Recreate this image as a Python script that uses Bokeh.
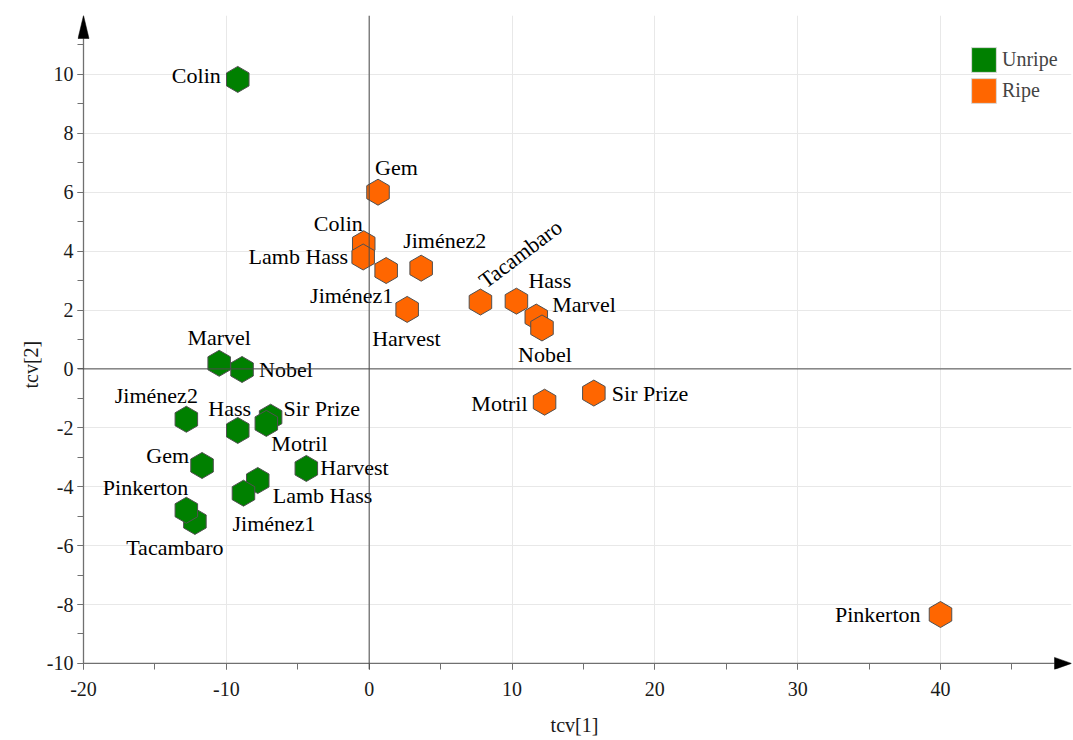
import math
from bokeh.plotting import figure
from bokeh.models import (Range1d, FixedTicker, Span, Legend, LegendItem, ColumnDataSource,
                          CustomJSTickFormatter, Title)
from bokeh.embed import file_html
from bokeh.resources import INLINE
from bokeh.core.properties import value

# ---------------- data ----------------
unripe_names = ["Colin", "Marvel", "Nobel", "Jiménez2", "Hass", "Sir Prize", "Motril",
                "Gem", "Harvest", "Lamb Hass", "Jiménez1", "Tacambaro", "Pinkerton"]
unripe_t1 = [-9.2, -10.5, -8.9, -12.8, -9.2, -6.9, -7.2, -11.7, -4.4, -7.8, -8.8, -12.2, -12.8]
unripe_t2 = [9.83, 0.19, -0.02, -1.71, -2.09, -1.64, -1.85, -3.28, -3.38, -3.79, -4.22, -5.18, -4.80]

ripe_names = ["Gem", "Colin", "Lamb Hass", "Jiménez1", "Jiménez2", "Harvest", "Tacambaro",
              "Hass", "Marvel", "Nobel", "Motril", "Sir Prize", "Pinkerton"]
ripe_t1 = [0.62, -0.38, -0.42, 1.19, 3.64, 2.66, 7.79, 10.31, 11.7, 12.1, 12.28, 15.73, 40.0]
ripe_t2 = [6.0, 4.25, 3.8, 3.34, 3.42, 2.02, 2.27, 2.30, 1.76, 1.39, -1.13, -0.82, -8.34]

x_ticks = [-20, -10, 0, 10, 20, 30, 40]
y_ticks = [-10, -8, -6, -4, -2, 0, 2, 4, 6, 8, 10]
x_axis_start, y_axis_start, y_axis_end = -20, -10, 12
series_labels = ["Unripe", "Ripe"]
axis_titles = ["tcv[1]", "tcv[2]"]

# ---------------- label styling (screen px offsets, alignment, angle deg) ----------------
unripe_lbl = {
    "Colin": ("right", -17, -4, 0), "Marvel": ("center", 0, -26, 0), "Nobel": ("left", 17, 0, 0),
    "Jiménez2": ("center", -30, -24, 0), "Hass": ("center", -8, -22, 0),
    "Sir Prize": ("left", 13, -9, 0), "Motril": ("left", 5, 20, 0), "Gem": ("right", -13, -10, 0),
    "Harvest": ("left", 14, -1, 0), "Lamb Hass": ("left", 15, 15, 0),
    "Jiménez1": ("left", -11, 30, 0), "Tacambaro": ("center", -20, 26, 0),
    "Pinkerton": ("right", 2, -23, 0),
}
ripe_lbl = {
    "Gem": ("left", -3, -25, 0), "Colin": ("right", -1, -20, 0), "Lamb Hass": ("right", -15, 0, 0),
    "Jiménez1": ("right", 7, 25, 0), "Jiménez2": ("left", -18, -28, 0),
    "Harvest": ("left", -35, 29, 0), "Tacambaro": ("left", 1, -19, 37),
    "Hass": ("left", 12, -21, 0), "Marvel": ("left", 16, -13, 0), "Nobel": ("center", 3, 27, 0),
    "Motril": ("right", -17, 1, 0), "Sir Prize": ("left", 18, 0, 0), "Pinkerton": ("right", -20, 0, 0),
}

FONT = "Liberation Serif"
AX = "#707070"
W, H = 1073, 740
LEFT, RIGHT, TOP, BOTTOM = 77, 2, 15, 71
PAD = 6                      # gap between frame edge and drawn axis lines (= tick length)
PPX = 857 / 60.0             # pixels per x unit
PPY = 589 / 20.0             # pixels per y unit
X0 = x_axis_start - PAD / PPX
X1 = X0 + (W - LEFT - RIGHT) / PPX
Y1 = y_axis_end
Y0 = Y1 - (H - TOP - BOTTOM) / PPY

p = figure(width=W, height=H, x_range=Range1d(X0, X1), y_range=Range1d(Y0, Y1),
           output_backend="svg", toolbar_location=None, min_border=0,
           min_border_left=LEFT, min_border_right=RIGHT, min_border_top=TOP,
           min_border_bottom=BOTTOM)
p.outline_line_color = None
p.background_fill_color = "white"

fmt = CustomJSTickFormatter(code="return tick.toString()")
p.xaxis.ticker = FixedTicker(ticks=x_ticks, minor_ticks=list(range(-20, 50, 5)))
p.yaxis.ticker = FixedTicker(ticks=y_ticks, minor_ticks=list(range(-10, 12)))
for ax in (p.xaxis[0], p.yaxis[0]):
    ax.formatter = fmt
    ax.axis_line_color = None
    ax.major_tick_line_color = AX
    ax.minor_tick_line_color = AX
    ax.major_tick_out = 0
    ax.major_tick_in = PAD
    ax.minor_tick_out = 0
    ax.minor_tick_in = PAD
    ax.major_label_text_font = FONT
    ax.major_label_text_font_size = "20px"
    ax.major_label_text_color = "#1a1a1a"
    ax.axis_label_text_font = FONT
    ax.axis_label_text_font_style = "normal"
    ax.axis_label_text_font_size = "20px"
    ax.axis_label_text_color = "#1a1a1a"
p.xaxis.axis_label = axis_titles[0]
p.xaxis.major_label_standoff = 12
p.xaxis.axis_label_standoff = 15
p.yaxis.major_label_standoff = 4

p.xgrid.ticker = FixedTicker(ticks=x_ticks)
p.ygrid.ticker = FixedTicker(ticks=y_ticks)
p.xgrid.grid_line_color = "#e8e8e8"
p.ygrid.grid_line_color = "#e8e8e8"

p.add_layout(Title(text=axis_titles[1], align="left", offset=281, text_font=FONT,
                   text_font_size="20px", text_font_style="normal", text_color="#1a1a1a",
                   standoff=4), "left")

p.add_layout(Span(location=0, dimension="height", line_color="#4a4a4a", line_width=1))
p.add_layout(Span(location=0, dimension="width", line_color="#4a4a4a", line_width=1))

# axis lines with arrow heads
up_len, up_hw = 23 / PPY, 5.5 / PPX
rt_len, rt_hw = 17 / PPX, 6 / PPY
p.segment(x0=[x_axis_start, x_axis_start], y0=[y_axis_start, y_axis_start],
          x1=[x_axis_start, X1 - rt_len], y1=[Y1 - up_len, y_axis_start],
          line_color=AX, line_width=1.3)
p.patches(xs=[[x_axis_start, x_axis_start - up_hw, x_axis_start + up_hw],
              [X1, X1 - rt_len, X1 - rt_len]],
          ys=[[Y1, Y1 - up_len, Y1 - up_len],
              [y_axis_start, y_axis_start + rt_hw, y_axis_start - rt_hw]],
          fill_color="black", line_color="black", line_width=0.5)

colors = ["#008000", "#ff6600"]
for names, t1, t2, lbl, col in ((unripe_names, unripe_t1, unripe_t2, unripe_lbl, colors[0]),
                                (ripe_names, ripe_t1, ripe_t2, ripe_lbl, colors[1])):
    src = ColumnDataSource(dict(x=t1, y=t2, name=names))
    p.scatter("x", "y", source=src, marker="hex", size=26, angle=math.pi / 2,
              fill_color=col, line_color="#505050", line_width=1)
    for align in ("left", "right", "center"):
        idx = [i for i, n in enumerate(names) if lbl[n][0] == align]
        if not idx:
            continue
        s = ColumnDataSource(dict(
            x=[t1[i] for i in idx], y=[t2[i] for i in idx], text=[names[i] for i in idx],
            dx=[lbl[names[i]][1] for i in idx], dy=[lbl[names[i]][2] for i in idx],
            ang=[math.radians(lbl[names[i]][3]) for i in idx]))
        p.text("x", "y", text="text", source=s, x_offset="dx", y_offset="dy", angle="ang",
               text_align=align, text_baseline="middle", text_font=value(FONT),
               text_font_size="22px", text_color="black")

nan = float("nan")
r_u = p.quad(left=[nan], right=[nan], top=[nan], bottom=[nan], fill_color=colors[0],
             line_color="#d8d8d8")
r_r = p.quad(left=[nan], right=[nan], top=[nan], bottom=[nan], fill_color=colors[1],
             line_color="#d8d8d8")
legend = Legend(items=[LegendItem(label=series_labels[0], renderers=[r_u]),
                       LegendItem(label=series_labels[1], renderers=[r_r])],
                location=(891, 563), glyph_width=31, glyph_height=31, spacing=0, padding=0,
                margin=0, border_line_color=None, background_fill_alpha=0, label_standoff=3,
                label_text_font=FONT, label_text_font_size="20px", label_height=31)
p.add_layout(legend)

open("out.html", "w").write(file_html(p, INLINE))
